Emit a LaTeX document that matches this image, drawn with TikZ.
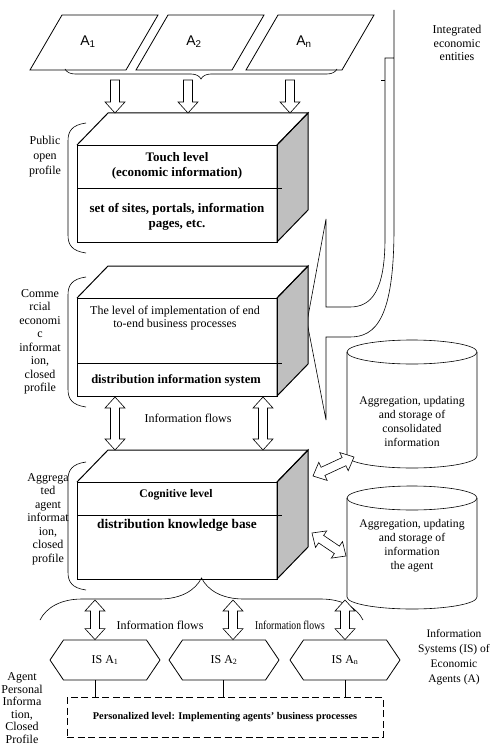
\documentclass[tikz,border=0pt]{standalone}
\usepackage{fontspec}
\setmainfont{Liberation Serif}
\setsansfont{Liberation Sans}
\usetikzlibrary{calc}
\usetikzlibrary{positioning}
\usetikzlibrary{shapes.symbols}
\usetikzlibrary{decorations.pathreplacing}

\tikzset{
	txt/.style={align=center, inner sep=0pt, font=\fontsize{12}{13.5}\selectfont},
	bold/.style={align=center, inner sep=0pt, font=\fontsize{13}{15}\selectfont\bfseries},
	hexa/.style={draw, shape=signal, signal to=east and west, signal pointer angle=112,
		minimum width=110pt, minimum height=40pt, inner sep=0pt, line width=0.8pt,
		font=\fontsize{12}{13}\selectfont},
	perso/.style={draw, dash pattern=on 7pt off 3.5pt, line width=0.9pt,
		minimum width=316pt, minimum height=40pt, font=\fontsize{10.3}{12}\selectfont\bfseries},
}

\begin{document}
\begin{tikzpicture}[x=1pt, y=-1pt, line width=0.6pt]
		\useasboundingbox[fill=white] (0,0) rectangle (499,749);

		\newcommand\hako[5]{
			% (x0, y0, x1, y1, name), front face, depth (31, 32)
			\coordinate (#5-a) at (#1, #2);
			\coordinate (#5-b) at (#1+31, #2-32);
			\coordinate (#5-c) at (#3+31, #2-32);
			\coordinate (#5-d) at (#3, #2);
			\coordinate (#5-e) at (#3+31, #4-32);
			\coordinate (#5-f) at (#3, #4);
			\draw[fill=black!25, line width=1pt] (#5-d) -- (#5-c) -- (#5-e) -- (#5-f) -- cycle;
			\draw[line width=1pt] (#5-a) -- (#5-b) -- (#5-c) -- (#5-d);
			\draw[line width=1pt] (#5-a) rectangle (#5-f);
		}
		\newcommand\tsutsu[4]{
			% (x, y top, y bottom, name)
			\draw (#1-65, #2) -- (#1-65, #3) arc (180:360:65pt and 12pt) -- (#1+65, #2);
			\draw (#1, #2) ellipse (65pt and 12pt);
			\coordinate (#4) at (#1, #2);
		}
		\newcommand\pfeil[2]{
			% hollow arrow, (from, to)
			\coordinate (pa) at (#1);
			\coordinate (pb) at (#2);
			\coordinate (pc) at ($(pb)!11pt!(pa)$);
			\draw[fill=white] ($(pa)!4.5pt!90:(pb)$) -- ($(pc)!4.5pt!90:(pb)$) -- ($(pc)!10pt!90:(pb)$) -- (pb)
				-- ($(pc)!10pt!-90:(pb)$) -- ($(pc)!4.5pt!-90:(pb)$) -- ($(pa)!4.5pt!-90:(pb)$) -- cycle;
		}
		\newcommand\dpfeil[2]{
			% hollow arrow, both ends
			\coordinate (pa) at (#1);
			\coordinate (pb) at (#2);
			\coordinate (pc) at ($(pb)!11pt!(pa)$);
			\coordinate (pd) at ($(pa)!11pt!(pb)$);
			\draw[fill=white] (pa) -- ($(pd)!10pt!90:(pb)$) -- ($(pd)!4.5pt!90:(pb)$) -- ($(pc)!4.5pt!90:(pb)$)
				-- ($(pc)!10pt!90:(pb)$) -- (pb) -- ($(pc)!10pt!-90:(pb)$) -- ($(pc)!4.5pt!-90:(pb)$)
				-- ($(pd)!4.5pt!-90:(pb)$) -- ($(pd)!10pt!-90:(pb)$) -- cycle;
		}

		% economic entities
		\foreach \x/\i in {62/1, 168/2, 278/n} {
			\draw[line width=0.8pt] (\x, 15) -- ++(96, 0) -- ++(-32, 55) -- ++(-96, 0) -- cycle;
			\node[font=\fontsize{14}{16}\selectfont\sffamily] (a\i) at (\x+26, 42) {A\textsubscript{\i}};
		}
		\draw[decorate, decoration={brace, amplitude=10pt}] (337, 69) -- (65, 69);
		\node[txt] (ent) at (457, 43) {Integrated\\economic\\entities};

		% right bracket
		\draw (394, 10) -- (394, 228) .. controls (394, 318) and (376, 337) .. (350, 337) -- (326, 337)
			-- (326, 420) -- (307, 322) -- (326, 219) -- (326, 307) -- (350, 307)
			.. controls (372, 307) and (385, 290) .. (385, 238) -- (385, 58) -- (394, 58);
		\draw (381, 80) -- (385, 80);

		% levels
		\hako{77}{145}{277}{242}{hako1}
		\draw (77, 188) -- (282, 188);
		\node[bold] (touch) at (177, 165.5) {Touch level\\(economic information)};
		\node[bold] (sites) at (177, 216.5) {set of sites, portals, information\\pages, etc.};

		\hako{77}{298}{277}{396}{hako2}
		\draw (77, 363) -- (282, 363);
		\node[txt, font=\fontsize{12}{13}\selectfont] (impl) at (175, 318.5) {The level of implementation of end\\to-end business processes};
		\node[bold, font=\fontsize{12.5}{14}\selectfont\bfseries] (dis) at (176, 380) {distribution information system};

		\hako{77}{482}{277}{579}{hako3}
		\draw (77, 515) -- (282, 515);
		\node[bold, font=\fontsize{11.6}{13}\selectfont\bfseries] (cog) at (176, 495) {Cognitive level};
		\node[bold, font=\fontsize{13.3}{15}\selectfont\bfseries] (dkb) at (177, 525) {distribution knowledge base};

		% profiles
		\foreach \ya/\yb in {123/253, 277/407, 462/590} {
			\draw (86, \ya) .. controls (72, \ya+2) and (68, \ya+8) .. (68, \ya+18) -- (68, \yb-18)
				.. controls (68, \yb-8) and (72, \yb-2) .. (86, \yb);
		}
		\node[txt, font=\fontsize{12}{15}\selectfont] (pub) at (45, 157) {Public\\open\\profile};
		\node[txt] (comm) at (40, 342) {Comme\\rcial\\economi\\c\\informat\\ion,\\closed\\profile};
		\node[txt] (aggr) at (48, 519) {Aggrega\\ted\\agent\\informat\\ion,\\closed\\profile};
		\node[txt, font=\fontsize{12}{12.5}\selectfont] (pers) at (22, 708) {Agent\\Personal\\Informa\\tion,\\Closed\\Profile};

		% flows
		\foreach \x/\n in {115/1, 188/2, 290/3} {
			\coordinate (d\n) at (\x, 80);
			\pfeil{d\n}{d\n |- hako1-b}
		}
		\coordinate (m1) at (115, 397);
		\coordinate (m2) at (263, 397);
		\dpfeil{m1}{m1 |- hako3-b}
		\dpfeil{m2}{m2 |- hako3-b}
		\node[txt] (fl1) at (188, 418) {Information flows};

		% storage
		\tsutsu{412}{352}{456}{cyl1}
		\tsutsu{412}{498}{597}{cyl2}
		\node[txt, font=\fontsize{11.7}{14}\selectfont] (st1) at (412, 421) {Aggregation, updating\\and storage of\\consolidated\\information};
		\node[txt, font=\fontsize{11.7}{14}\selectfont] (st2) at (412, 546) {Aggregation, updating\\and storage of\\information\\the agent};
		\coordinate (s1) at (313, 476);
		\coordinate (s1e) at (354, 457);
		\coordinate (s2) at (312, 533);
		\coordinate (s2e) at (346, 556);
		\dpfeil{s1}{s1e}
		\dpfeil{s2}{s2e}

		% agents
		\draw[decorate, decoration={brace, amplitude=42pt}] (40, 620) -- (363, 620);
		\node[hexa] (is1) at (105, 660) {IS A\textsubscript{1}};
		\node[hexa] (is2) at (224, 660) {IS A\textsubscript{2}};
		\node[hexa] (isn) at (345, 660) {IS A\textsubscript{n}};
		\node[perso] (plev) at (225, 717) {Personalized level: Implementing agents' business processes};
		\foreach \x/\n/\h in {95/1/is1, 233/2/is2, 345/3/isn} {
			\coordinate (b\n) at (\x, 600);
			\dpfeil{b\n}{b\n |- \h.north}
		}
		\foreach \x/\h in {95/is1, 223/is2, 345/isn} {
			\coordinate (l\h) at (\x, 0);
			\draw[line width=0.9pt] (\h.south -| l\h) -- (l\h |- plev.north);
		}
		\node[txt] (fl2) at (160, 625) {Information flows};
		\node[txt] (fl3) at (290, 625) {\scalebox{0.8}[1]{Information flows}};
		\node[txt, font=\fontsize{11.5}{15}\selectfont] (isys) at (454, 657) {Information\\Systems (IS) of\\Economic\\Agents (A)};

	\end{tikzpicture}
\end{document}
